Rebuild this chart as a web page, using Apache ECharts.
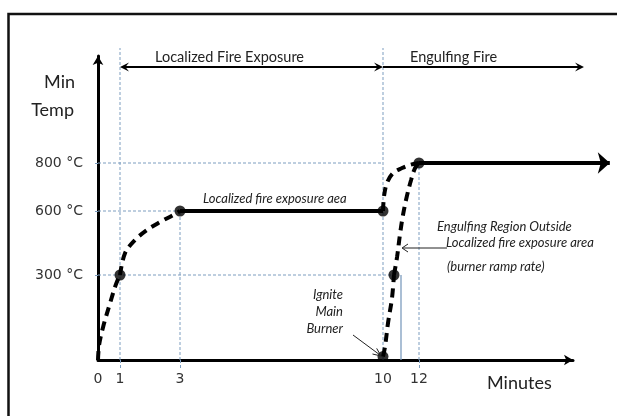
<!DOCTYPE html>
<html><head><meta charset="utf-8">
<script src="https://cdn.jsdelivr.net/npm/echarts@6/dist/echarts.min.js"></script>
<style>html,body{margin:0;padding:0;background:#fff}#c{width:617px;height:416px}</style>
</head><body><div id="c"></div>
<script>
// ---------- data: minutes / °C ----------
const xTickMinutes = [0, 1, 3, 10, 12];
const xTickLabels = ['0', '1', '3', '10', '12'];
const yTickTemps = [300, 600, 800];
const yTickLabels = ['300 °C', '600 °C', '800 °C'];

const rampToFirst   = [[0,0],[0.05,53],[0.23,116],[0.55,201],[0.82,268],[1,300]];
const rampToLocal   = [[1,300],[1.17,403],[1.5,464],[1.9,511],[2.33,548],[2.77,581],[3,600]];
const localPlateau  = [[3,600],[10,600]];
const localToEngulf = [[10,600],[10.06,663],[10.22,717],[10.56,758],[11.06,779],[11.5,792],[12,800]];
const igniteRamp    = [[10,12],[10.11,46],[10.28,131],[10.5,219],[10.61,300]];
const burnerRamp    = [[10.61,300],[10.78,384],[10.94,488],[11.11,581],[11.33,663],[11.56,729],[11.78,779],[12,800]];
const engulfPlateau = [[12,800],[22.6,800]];
const burnerMarker  = [[11,300],[11,0]];
const keyPoints     = [[1,300],[3,600],[10,600],[10,12],[10.61,300],[12,800]];
const refLinesData  = [
  [[0,300],[10.61,300]], [[0,600],[3,600]], [[0,800],[10,800]],
  [[3,0],[3,600]], [[12,0],[12,800]]
];
const refToTopMinutes = [1, 10];

// ---------- schematic (non-linear) scale of the drawing ----------
const X_KNOTS = [0, 1, 3, 10, 12], X_UNITS = [0, 22, 82, 285, 321], X_AFTER = 18;
const Y_KNOTS = [0, 300, 600, 800], Y_UNITS = [0, 85, 149, 197], Y_AFTER = 0.24;
function piecewise(v, ks, us, after) {
  for (let i = 0; i < ks.length - 1; i++)
    if (v <= ks[i + 1]) return us[i] + (v - ks[i]) * (us[i + 1] - us[i]) / (ks[i + 1] - ks[i]);
  return us[us.length - 1] + (v - ks[ks.length - 1]) * after;
}
const wx = m => piecewise(m, X_KNOTS, X_UNITS, X_AFTER);
const wy = t => piecewise(t, Y_KNOTS, Y_UNITS, Y_AFTER);
const W = pts => pts.map(([m, t]) => [wx(m), wy(t)]);

const X_MAX = 475, X_MAX_WIDE = 519, Y_MAX = 304, TOP_U = 312;
const REF = '#7d9dbf';
const BLACK = '#000';

const chart = echarts.init(document.getElementById('c'), null, { renderer: 'canvas' });

const refSeries = refLinesData.map(seg => ({ data: W(seg) }))
  .concat(refToTopMinutes.map(m => ({ data: [[wx(m), 0], [wx(m), TOP_U]] })))
  .map(s => ({
    type: 'line', data: s.data, symbol: 'none', clip: false, silent: true, z: 1,
    lineStyle: { color: REF, width: 1, type: [3, 2] }
  }));

function dashed(pts) {
  return { type: 'line', data: W(pts), smooth: 0.35, symbol: 'none', clip: false, z: 3,
    lineStyle: { color: BLACK, width: 4, type: [9, 6], cap: 'butt' } };
}
function solid(pts) {
  return { type: 'line', data: W(pts), symbol: 'none', clip: false, z: 3,
    lineStyle: { color: BLACK, width: 4 } };
}
const engulfData = W(engulfPlateau).map((p, i, a) => i === a.length - 1
  ? { value: p, symbol: 'arrow', symbolSize: [16, 12], symbolRotate: -90, itemStyle: { color: BLACK } }
  : { value: p });

const hiddenAxis = { show: false, axisLine: { show: false }, axisTick: { show: false }, axisLabel: { show: false }, splitLine: { show: false } };

const option = {
  animation: false,
  backgroundColor: '#fff',
  grid: [
    { left: 98, top: 56, width: X_MAX, height: Y_MAX, containLabel: false, outerBoundsMode: 'none' },
    { left: 98, top: 56, width: X_MAX_WIDE, height: Y_MAX, containLabel: false, outerBoundsMode: 'none' }
  ],
  xAxis: [{
    type: 'value', min: 0, max: X_MAX, gridIndex: 0,
    axisLine: { show: true, onZero: false, lineStyle: { color: BLACK, width: 3 }, symbol: ['none', 'arrow'], symbolSize: [8, 9] },
    axisTick: { show: true, customValues: [wx(1), wx(3), wx(12)], length: 8, lineStyle: { color: REF, width: 1, type: [3, 2] } },
    axisLabel: {
      customValues: xTickMinutes.map(wx), margin: 12,
      formatter: v => { const i = xTickMinutes.findIndex(m => Math.abs(wx(m) - v) < 0.01); return i >= 0 ? xTickLabels[i] : ''; },
      fontFamily: 'DejaVu Sans', fontSize: 14, color: '#333'
    },
    splitLine: { show: false }
  }, Object.assign({ type: 'value', min: 0, max: X_MAX_WIDE, gridIndex: 1 }, hiddenAxis)],
  yAxis: [{
    type: 'value', min: 0, max: Y_MAX, gridIndex: 0,
    axisLine: { show: true, onZero: false, lineStyle: { color: BLACK, width: 3 }, symbol: ['none', 'arrow'], symbolSize: [8, 9] },
    axisTick: { show: true, customValues: yTickTemps.map(wy), length: 5, lineStyle: { color: REF, width: 1, type: [3, 2] } },
    axisLabel: {
      customValues: yTickTemps.map(wy), margin: 15,
      formatter: v => { const i = yTickTemps.findIndex(t => Math.abs(wy(t) - v) < 0.01); return i >= 0 ? yTickLabels[i] : ''; },
      fontFamily: 'DejaVu Sans', fontSize: 14, color: '#333'
    },
    splitLine: { show: false }
  }, Object.assign({ type: 'value', min: 0, max: Y_MAX, gridIndex: 1 }, hiddenAxis)],
  series: refSeries.concat([
    { type: 'line', data: W(burnerMarker), symbol: 'none', clip: false, silent: true, z: 2,
      lineStyle: { color: REF, width: 1.3 } },
    dashed(rampToFirst), dashed(rampToLocal), solid(localPlateau),
    dashed(localToEngulf), dashed(igniteRamp), dashed(burnerRamp),
    { type: 'line', xAxisIndex: 1, yAxisIndex: 1, data: engulfData, symbol: 'none', showSymbol: true, clip: false, z: 3,
      lineStyle: { color: BLACK, width: 4 } },
    { type: 'scatter', data: W(keyPoints), symbolSize: 11, itemStyle: { color: BLACK }, z: 5, clip: false }
  ])
};
chart.setOption(option);

// ---------- annotations ----------
const px = m => chart.convertToPixel({ gridIndex: 0 }, [wx(m), 0])[0];
function head(tx, ty, ang, len, hw, notch) {
  const c = Math.cos(ang), s = Math.sin(ang);
  const bx = tx - c * len, by = ty - s * len;
  const nx = tx - c * len * notch, ny = ty - s * len * notch;
  return [[tx, ty], [bx - s * hw, by + c * hw], [nx, ny], [bx + s * hw, by - c * hw]];
}
function vHead(tx, ty, ang, len, hw) {
  const c = Math.cos(ang), s = Math.sin(ang);
  const bx = tx - c * len, by = ty - s * len;
  return [[bx - s * hw, by + c * hw], [tx, ty], [bx + s * hw, by - c * hw]];
}
function txt(x, y, text, font, align) {
  return { type: 'text', x: x, y: y, z: 10, style: { text: text, font: font, fill: '#222',
    align: align || 'left', verticalAlign: 'middle', textAlign: align || 'left', textVerticalAlign: 'middle' } };
}
const x1 = px(1), x10 = px(10);
const ARROW_Y = 67;
const g = [
  { type: 'rect', shape: { x: 8.5, y: 14, width: 720, height: 520 }, style: { fill: 'none', stroke: '#111', lineWidth: 2.5 }, z: 10 },
  // top phase arrows
  { type: 'line', shape: { x1: x1 + 3, y1: ARROW_Y, x2: x10 - 3, y2: ARROW_Y }, style: { stroke: BLACK, lineWidth: 2 }, z: 10 },
  { type: 'polygon', shape: { points: head(x1, ARROW_Y, Math.PI, 9, 4.5, 0.6) }, style: { fill: BLACK }, z: 10 },
  { type: 'polygon', shape: { points: head(x10, ARROW_Y, 0, 9, 4.5, 0.6) }, style: { fill: BLACK }, z: 10 },
  { type: 'line', shape: { x1: x10, y1: ARROW_Y, x2: 580, y2: ARROW_Y }, style: { stroke: BLACK, lineWidth: 2 }, z: 10 },
  { type: 'polygon', shape: { points: head(584, ARROW_Y, 0, 9, 4.5, 0.6) }, style: { fill: BLACK }, z: 10 },
  txt(155, 57, 'Localized Fire Exposure', '14.5px Lato'),
  txt(410, 57, 'Engulfing Fire', '14.5px Lato'),
  // axis titles
  txt(75, 82, 'Min', '18px Lato', 'right'),
  txt(74, 110, 'Temp', '18px Lato', 'right'),
  txt(487, 383, 'Minutes', '18px Lato'),
  // italic notes
  txt(203, 199, 'Localized fire exposure aea', 'italic 13px Lato'),
  txt(437, 227, 'Engulfing Region Outside', 'italic 13px Lato'),
  txt(446, 243, 'Localized fire exposure area', 'italic 13px Lato'),
  txt(447, 267, '(burner ramp rate)', 'italic 13px Lato'),
  { type: 'line', shape: { x1: 447, y1: 248, x2: 403, y2: 248 }, style: { stroke: '#222', lineWidth: 1 }, z: 10 },
  { type: 'polyline', shape: { points: vHead(402, 248, Math.PI, 6, 4) }, style: { stroke: '#222', lineWidth: 1, fill: 'none' }, z: 10 },
  txt(343, 295, 'Ignite', 'italic 13px Lato', 'right'),
  txt(343, 312, 'Main', 'italic 13px Lato', 'right'),
  txt(343, 329, 'Burner', 'italic 13px Lato', 'right'),
  { type: 'line', shape: { x1: 353, y1: 335, x2: 380, y2: 355 }, style: { stroke: '#222', lineWidth: 1 }, z: 10 },
  { type: 'polyline', shape: { points: vHead(381, 356, Math.atan2(21, 28), 8, 3.5) }, style: { stroke: '#222', lineWidth: 1, fill: 'none' }, z: 10 }
];
chart.setOption({ graphic: { elements: g } });
</script></body></html>
